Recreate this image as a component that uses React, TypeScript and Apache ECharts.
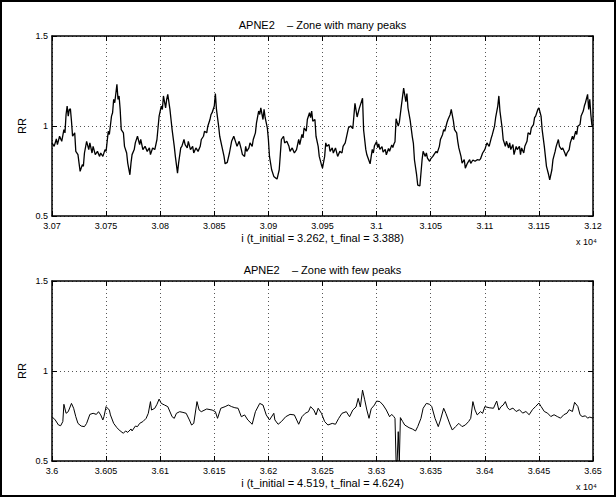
import React, { useEffect, useRef } from "react";
import * as echarts from "echarts";

// ---------- data ----------
const upperTitle = "APNE2    \u2013 Zone with many peaks";
const lowerTitle = "APNE2    \u2013 Zone with few peaks";
const upperXLabel = "i (t_initial = 3.262, t_final = 3.388)";
const lowerXLabel = "i (t_initial = 4.519, t_final = 4.624)";
const yLabel = "RR";
const xExponent = "x 10\u2074";

const upperRange = [30700, 31200];
const lowerRange = [36000, 36500];
const yRange = [0.5, 1.5];

const upperPoints: [number, number][] = [
  [30700, 0.906], [30702, 0.887], [30704, 0.928], [30705, 0.897], [30707, 0.943], [30709, 0.915],
  [30711, 0.98], [30712, 0.962], [30713, 1.064], [30714, 1.111], [30715, 1.055], [30716, 1.092],
  [30717, 1.096], [30718, 1.027], [30719, 0.943], [30721, 0.962], [30722, 0.859], [30724, 0.841],
  [30725, 0.794], [30726, 0.748], [30728, 0.785], [30729, 0.776], [30730, 0.85], [30732, 0.915],
  [30734, 0.869], [30735, 0.906], [30737, 0.85], [30738, 0.887], [30740, 0.841], [30742, 0.859],
  [30744, 0.831], [30745, 0.85], [30747, 0.831], [30749, 0.869], [30750, 0.859], [30752, 0.971],
  [30753, 0.953], [30755, 1.055], [30756, 1.074], [30757, 1.148], [30758, 1.129], [30760, 1.232],
  [30761, 1.148], [30762, 1.167], [30763, 1.092], [30764, 0.98], [30766, 0.962], [30767, 0.887],
  [30769, 0.85], [30770, 0.794], [30772, 0.729], [30773, 0.794], [30774, 0.841], [30776, 0.869],
  [30777, 0.906], [30779, 0.943], [30781, 0.897], [30782, 0.925], [30784, 0.869], [30786, 0.887],
  [30788, 0.859], [30790, 0.878], [30791, 0.841], [30793, 0.878], [30795, 0.869], [30797, 0.925],
  [30798, 0.99], [30799, 1.055], [30801, 1.111], [30802, 1.092], [30803, 1.167], [30805, 1.101],
  [30806, 1.148], [30807, 1.176], [30809, 1.092], [30810, 1.036], [30811, 0.98], [30813, 0.887],
  [30814, 0.831], [30816, 0.738], [30817, 0.794], [30819, 0.878], [30820, 0.887], [30822, 0.925],
  [30823, 0.897], [30825, 0.878], [30826, 0.915], [30828, 0.869], [30830, 0.887], [30831, 0.85],
  [30833, 0.878], [30835, 0.859], [30837, 0.887], [30838, 0.925], [30840, 0.943], [30841, 0.971],
  [30843, 0.962], [30844, 0.999], [30846, 1.036], [30847, 1.064], [30848, 1.074], [30850, 1.111],
  [30851, 1.18], [30852, 1.092], [30854, 0.999], [30855, 0.943], [30857, 0.887], [30859, 0.831],
  [30860, 0.79], [30862, 0.798], [30864, 0.85], [30866, 0.915], [30868, 0.943], [30870, 0.906],
  [30871, 0.887], [30873, 0.915], [30875, 0.869], [30876, 0.841], [30878, 0.831], [30879, 0.887],
  [30880, 0.859], [30882, 0.878], [30883, 0.906], [30885, 0.887], [30886, 0.925], [30888, 0.962],
  [30889, 1.018], [30891, 1.083], [30892, 1.064], [30893, 1.101], [30895, 1.036], [30896, 1.092],
  [30897, 1.046], [30899, 0.99], [30900, 0.925], [30901, 0.831], [30903, 0.757], [30905, 0.72],
  [30907, 0.71], [30908, 0.705], [30910, 0.757], [30911, 0.841], [30912, 0.925], [30914, 0.943],
  [30915, 0.906], [30917, 0.915], [30919, 0.887], [30920, 0.859], [30922, 0.878], [30924, 0.85],
  [30926, 0.869], [30928, 0.925], [30929, 0.897], [30931, 0.953], [30932, 0.934], [30933, 0.99],
  [30935, 0.971], [30936, 1.036], [30938, 1.074], [30939, 1.046], [30940, 1.083], [30941, 1.027],
  [30943, 1.036], [30944, 0.943], [30946, 0.887], [30947, 0.831], [30949, 0.785], [30950, 0.766],
  [30952, 0.831], [30953, 0.906], [30954, 0.887], [30956, 0.897], [30957, 0.859], [30959, 0.878],
  [30960, 0.85], [30962, 0.878], [30964, 0.831], [30966, 0.859], [30968, 0.85], [30969, 0.887],
  [30971, 0.906], [30973, 0.962], [30974, 0.99], [30976, 1.0], [30978, 0.985], [30980, 1.126],
  [30982, 1.05], [30984, 1.098], [30987, 1.154], [30988, 0.978], [30990, 0.87], [30991, 0.84],
  [30994, 0.79], [30995, 0.83], [30996, 0.87], [30997, 0.85], [30998, 0.89], [31000, 0.913],
  [31001, 0.88], [31002, 0.9], [31003, 0.87], [31005, 0.885], [31006, 0.855], [31008, 0.87],
  [31009, 0.84], [31011, 0.875], [31012, 0.86], [31014, 0.895], [31015, 0.88], [31016, 0.9],
  [31017, 0.913], [31018, 1.04], [31020, 1.0], [31021, 1.02], [31023, 1.117], [31025, 1.21],
  [31027, 1.135], [31028, 1.18], [31029, 1.1], [31031, 1.033], [31033, 0.94], [31034, 0.904],
  [31035, 0.811], [31037, 0.728], [31038, 0.672], [31040, 0.667], [31042, 0.81], [31043, 0.859],
  [31045, 0.831], [31046, 0.85], [31047, 0.822], [31049, 0.804], [31050, 0.817], [31052, 0.831],
  [31053, 0.841], [31055, 0.859], [31056, 0.85], [31058, 0.887], [31059, 0.925], [31061, 0.953],
  [31062, 0.98], [31063, 0.971], [31065, 1.018], [31066, 1.036], [31068, 1.064], [31069, 1.092],
  [31071, 1.027], [31072, 0.98], [31074, 0.962], [31075, 0.915], [31076, 0.878], [31078, 0.831],
  [31079, 0.794], [31081, 0.813], [31082, 0.766], [31084, 0.794], [31086, 0.813], [31087, 0.792],
  [31089, 0.811], [31091, 0.804], [31093, 0.813], [31095, 0.81], [31096, 0.817], [31098, 0.85],
  [31100, 0.869], [31102, 0.906], [31104, 0.887], [31106, 0.934], [31107, 0.953], [31109, 0.999],
  [31110, 1.046], [31112, 1.111], [31113, 1.167], [31114, 1.083], [31116, 0.99], [31117, 0.925],
  [31119, 0.887], [31120, 0.915], [31122, 0.878], [31123, 0.906], [31124, 0.869], [31126, 0.897],
  [31127, 0.841], [31129, 0.887], [31130, 0.869], [31132, 0.887], [31133, 0.841], [31134, 0.878],
  [31136, 0.85], [31137, 0.887], [31139, 0.915], [31140, 0.962], [31142, 0.953], [31143, 0.99],
  [31145, 1.008], [31146, 1.046], [31147, 1.055], [31149, 1.092], [31150, 1.101], [31152, 1.055],
  [31153, 0.98], [31155, 0.887], [31156, 0.831], [31157, 0.776], [31159, 0.729], [31160, 0.701],
  [31162, 0.757], [31163, 0.813], [31165, 0.859], [31166, 0.887], [31168, 0.925], [31169, 0.887],
  [31171, 0.869], [31172, 0.878], [31174, 0.85], [31175, 0.831], [31176, 0.85], [31178, 0.869],
  [31179, 0.906], [31181, 0.943], [31182, 0.925], [31184, 0.971], [31185, 0.953], [31186, 0.999],
  [31188, 1.008], [31189, 1.055], [31191, 1.083], [31192, 1.111], [31193, 1.129], [31195, 1.176],
  [31196, 1.092], [31197, 1.148], [31198, 1.064], [31199, 1.003], [31200, 1.003],
];

const lowerPoints: [number, number][] = [
  [36000, 0.746], [36003, 0.728], [36006, 0.7], [36008, 0.696], [36010, 0.719], [36011, 0.815],
  [36013, 0.765], [36015, 0.774], [36018, 0.82], [36020, 0.793], [36022, 0.746], [36024, 0.709],
  [36027, 0.694], [36030, 0.691], [36032, 0.709], [36035, 0.759], [36038, 0.765], [36041, 0.759],
  [36043, 0.774], [36045, 0.756], [36047, 0.728], [36048, 0.746], [36050, 0.802], [36053, 0.783],
  [36054, 0.756], [36057, 0.709], [36060, 0.685], [36063, 0.667], [36066, 0.654], [36068, 0.667],
  [36070, 0.659], [36073, 0.678], [36074, 0.667], [36077, 0.694], [36079, 0.691], [36081, 0.709],
  [36084, 0.719], [36087, 0.737], [36089, 0.765], [36091, 0.83], [36092, 0.783], [36095, 0.793],
  [36097, 0.815], [36099, 0.844], [36101, 0.82], [36104, 0.811], [36107, 0.802], [36111, 0.746],
  [36113, 0.737], [36115, 0.765], [36118, 0.774], [36121, 0.77], [36124, 0.765], [36127, 0.728],
  [36129, 0.7], [36131, 0.709], [36134, 0.83], [36136, 0.783], [36138, 0.774], [36143, 0.789],
  [36148, 0.783], [36151, 0.774], [36153, 0.737], [36156, 0.793], [36160, 0.802], [36163, 0.811],
  [36166, 0.802], [36169, 0.796], [36172, 0.793], [36175, 0.746], [36178, 0.756], [36181, 0.728],
  [36185, 0.704], [36188, 0.774], [36192, 0.82], [36195, 0.811], [36198, 0.756], [36201, 0.728],
  [36205, 0.765], [36206, 0.728], [36209, 0.704], [36212, 0.719], [36216, 0.746], [36220, 0.759],
  [36224, 0.756], [36228, 0.704], [36231, 0.746], [36234, 0.765], [36237, 0.774], [36239, 0.802],
  [36242, 0.783], [36244, 0.756], [36246, 0.793], [36249, 0.765], [36252, 0.719], [36255, 0.7],
  [36259, 0.709], [36262, 0.704], [36265, 0.737], [36268, 0.765], [36272, 0.774], [36275, 0.746],
  [36278, 0.783], [36281, 0.8], [36283, 0.848], [36285, 0.8], [36287, 0.894], [36289, 0.84],
  [36291, 0.783], [36293, 0.737], [36295, 0.79], [36298, 0.811], [36300, 0.833], [36303, 0.83],
  [36306, 0.811], [36309, 0.783], [36312, 0.746], [36314, 0.759], [36316, 0.746], [36317, 0.737],
  [36318, 0.5], [36319, 0.5], [36320, 0.663], [36321, 0.5], [36322, 0.741], [36324, 0.72],
  [36326, 0.7], [36330, 0.685], [36333, 0.678], [36336, 0.667], [36338, 0.691], [36341, 0.737],
  [36343, 0.793], [36346, 0.82], [36349, 0.815], [36351, 0.802], [36354, 0.737], [36357, 0.691],
  [36359, 0.728], [36362, 0.793], [36364, 0.765], [36368, 0.7], [36370, 0.672], [36373, 0.691],
  [36376, 0.709], [36379, 0.691], [36382, 0.7], [36385, 0.719], [36387, 0.737], [36389, 0.83],
  [36391, 0.783], [36393, 0.756], [36396, 0.774], [36398, 0.765], [36400, 0.802], [36404, 0.796],
  [36408, 0.793], [36411, 0.833], [36413, 0.783], [36415, 0.802], [36417, 0.811], [36419, 0.83],
  [36421, 0.796], [36423, 0.785], [36426, 0.794], [36429, 0.775], [36432, 0.785], [36435, 0.766],
  [36438, 0.775], [36441, 0.757], [36444, 0.785], [36447, 0.803], [36450, 0.822], [36452, 0.803],
  [36455, 0.775], [36458, 0.766], [36461, 0.747], [36464, 0.757], [36467, 0.747], [36470, 0.738],
  [36473, 0.757], [36476, 0.766], [36478, 0.785], [36481, 0.775], [36483, 0.826], [36486, 0.803],
  [36488, 0.757], [36490, 0.747], [36493, 0.751], [36495, 0.738], [36497, 0.744], [36500, 0.738],
];

// ---------- layout ----------
const W = 616;
const H = 497;
const FONT = '"Liberation Sans", Arial, Helvetica, sans-serif';
const PLOT_LEFT = 52;
const PLOT_WIDTH = 541;
const PLOT_HEIGHT = 180;
const UPPER_TOP = 36;
const LOWER_TOP = 281;

const fmtX = (v: number) => String(Number((v / 10000).toFixed(4)));

function bottomX(gridIndex: number, range: number[]) {
  return {
    type: "value",
    gridIndex,
    position: "bottom",
    min: range[0],
    max: range[1],
    interval: 50,
    axisLine: { show: true, onZero: false, lineStyle: { color: "#000", width: 1.5 } },
    axisTick: { show: true, inside: true, length: 5, lineStyle: { color: "#000", width: 1 } },
    axisLabel: {
      show: true, color: "#000", fontSize: 9, fontFamily: FONT, margin: 5,
      showMinLabel: true, showMaxLabel: true, formatter: fmtX,
    },
    splitLine: { show: true, lineStyle: { color: "#555", width: 1, type: [1, 3] } },
  };
}
function topX(gridIndex: number, range: number[]) {
  return {
    type: "value",
    gridIndex,
    position: "top",
    min: range[0],
    max: range[1],
    interval: 50,
    axisLine: { show: true, onZero: false, lineStyle: { color: "#000", width: 1.5 } },
    axisTick: { show: true, inside: true, length: 5, lineStyle: { color: "#000", width: 1 } },
    axisLabel: { show: false },
    splitLine: { show: false },
  };
}
function leftY(gridIndex: number) {
  return {
    type: "value",
    gridIndex,
    position: "left",
    min: yRange[0],
    max: yRange[1],
    interval: 0.5,
    axisLine: { show: true, onZero: false, lineStyle: { color: "#000", width: 1.5 } },
    axisTick: { show: true, inside: true, length: 5, lineStyle: { color: "#000", width: 1 } },
    axisLabel: { show: true, color: "#000", fontSize: 9, fontFamily: FONT, margin: 4 },
    splitLine: { show: true, lineStyle: { color: "#555", width: 1, type: [1, 3] } },
  };
}
function rightY(gridIndex: number) {
  return {
    type: "value",
    gridIndex,
    position: "right",
    min: yRange[0],
    max: yRange[1],
    interval: 0.5,
    axisLine: { show: true, onZero: false, lineStyle: { color: "#000", width: 1.5 } },
    axisTick: { show: true, inside: true, length: 5, lineStyle: { color: "#000", width: 1 } },
    axisLabel: { show: false },
    splitLine: { show: false },
  };
}

function txt(text: string, x: number, y: number, size: number, align = "center", rotation = 0) {
  return {
    type: "text",
    x, y, rotation,
    style: {
      text, fill: "#000", fontSize: size, fontFamily: FONT,
      textAlign: align, textVerticalAlign: "middle",
    },
  };
}

export default function App() {
  const ref = useRef<HTMLDivElement>(null);
  useEffect(() => {
    if (!ref.current) return;
    const chart = echarts.init(ref.current, undefined, { renderer: "svg", width: W, height: H });
    const cx = PLOT_LEFT + PLOT_WIDTH / 2;
    const upperBottom = UPPER_TOP + PLOT_HEIGHT;
    const lowerBottom = LOWER_TOP + PLOT_HEIGHT;
    chart.setOption({
      animation: false,
      backgroundColor: "#fff",
      grid: [
        { left: PLOT_LEFT, top: UPPER_TOP, width: PLOT_WIDTH, height: PLOT_HEIGHT },
        { left: PLOT_LEFT, top: LOWER_TOP, width: PLOT_WIDTH, height: PLOT_HEIGHT },
      ],
      xAxis: [bottomX(0, upperRange), topX(0, upperRange), bottomX(1, lowerRange), topX(1, lowerRange)],
      yAxis: [leftY(0), rightY(0), leftY(1), rightY(1)],
      series: [
        {
          type: "line", xAxisIndex: 0, yAxisIndex: 0, data: upperPoints,
          symbol: "none", showSymbol: false, clip: true,
          lineStyle: { color: "#000", width: 1.3 },
        },
        {
          type: "line", xAxisIndex: 2, yAxisIndex: 2, data: lowerPoints,
          symbol: "none", showSymbol: false, clip: true,
          lineStyle: { color: "#000", width: 1 },
        },
      ],
      graphic: [
        {
          type: "rect", silent: true,
          shape: { x: 1, y: 1, width: W - 2, height: H - 2 },
          style: { fill: "none", stroke: "#000", lineWidth: 2 },
        },
        txt(upperTitle, cx, UPPER_TOP - 11, 11),
        txt(lowerTitle, cx, LOWER_TOP - 11, 11),
        txt(upperXLabel, cx, upperBottom + 22, 11),
        txt(lowerXLabel, cx, lowerBottom + 22, 11),
        txt(xExponent, 597, upperBottom + 26, 9, "right"),
        txt(xExponent, 597, lowerBottom + 26, 9, "right"),
        txt(yLabel, 22, UPPER_TOP + PLOT_HEIGHT / 2, 11, "center", Math.PI / 2),
        txt(yLabel, 22, LOWER_TOP + PLOT_HEIGHT / 2, 11, "center", Math.PI / 2),
      ],
    });
    return () => chart.dispose();
  }, []);
  return (
    <div
      ref={ref}
      style={{ position: "absolute", left: 0, top: 0, width: W, height: H, background: "#fff" }}
    />
  );
}
